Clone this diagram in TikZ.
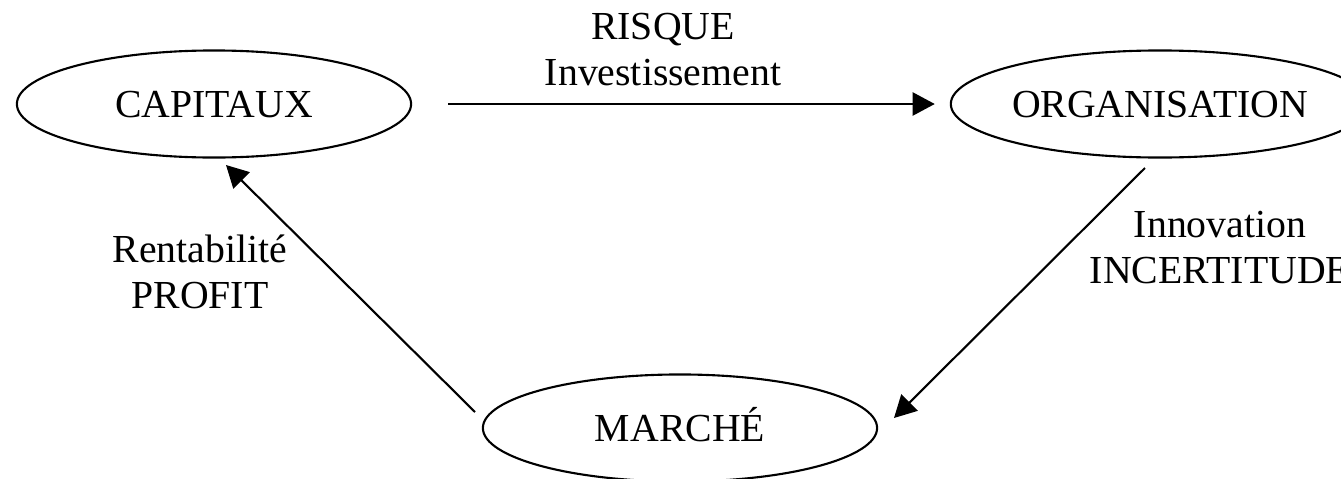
\documentclass[tikz,border=0pt]{standalone}
\usepackage{fontspec}
\setmainfont{Liberation Serif}
\usetikzlibrary{shapes.geometric,arrows.meta}

\tikzset{
	pole/.style = {ellipse, draw, line width = 0.6pt, minimum width = 3.94cm, minimum height = 1.07cm, inner sep = 0pt, text height = 0.26cm, text depth = 0pt},
	flux/.style = {-{Triangle[length = 0.22cm, width = 0.23cm]}, line width = 0.6pt},
	lbl/.style = {align = center, anchor = base, inner sep = 0pt}
}

\begin{document}
\begin{tikzpicture}[x = 0.01cm, y = 0.01cm, font = \fontsize{11.3}{12.8}\selectfont]
	\useasboundingbox (0,0) rectangle (1341,478);

	\draw
	(214,374) node[pole](CAP){CAPITAUX}		%capitaux
	(1160,374) node[pole](ORG){ORGANISATION}	%organisation
	(680,50) node[pole](MAR){MARCHÉ};		%marche

	\coordinate (ORGout) at (1145,310);
	\coordinate (MARin) at (894,60);
	\coordinate (MARout) at (475,66);
	\coordinate (CAPin) at (226,313);

	\draw[flux, shorten <= 0.36cm, shorten >= 0.15cm] (CAP) -- (ORG);
	\draw[flux] (ORGout) -- (MARin);
	\draw[flux] (MARout) -- (CAPin);

	\draw
	(663,393) node[lbl](L1){RISQUE\\Investissement}
	(1220,195) node[lbl](L2){Innovation\\INCERTITUDE}
	(200,170) node[lbl](L3){Rentabilité\\PROFIT};
\end{tikzpicture}
\end{document}
